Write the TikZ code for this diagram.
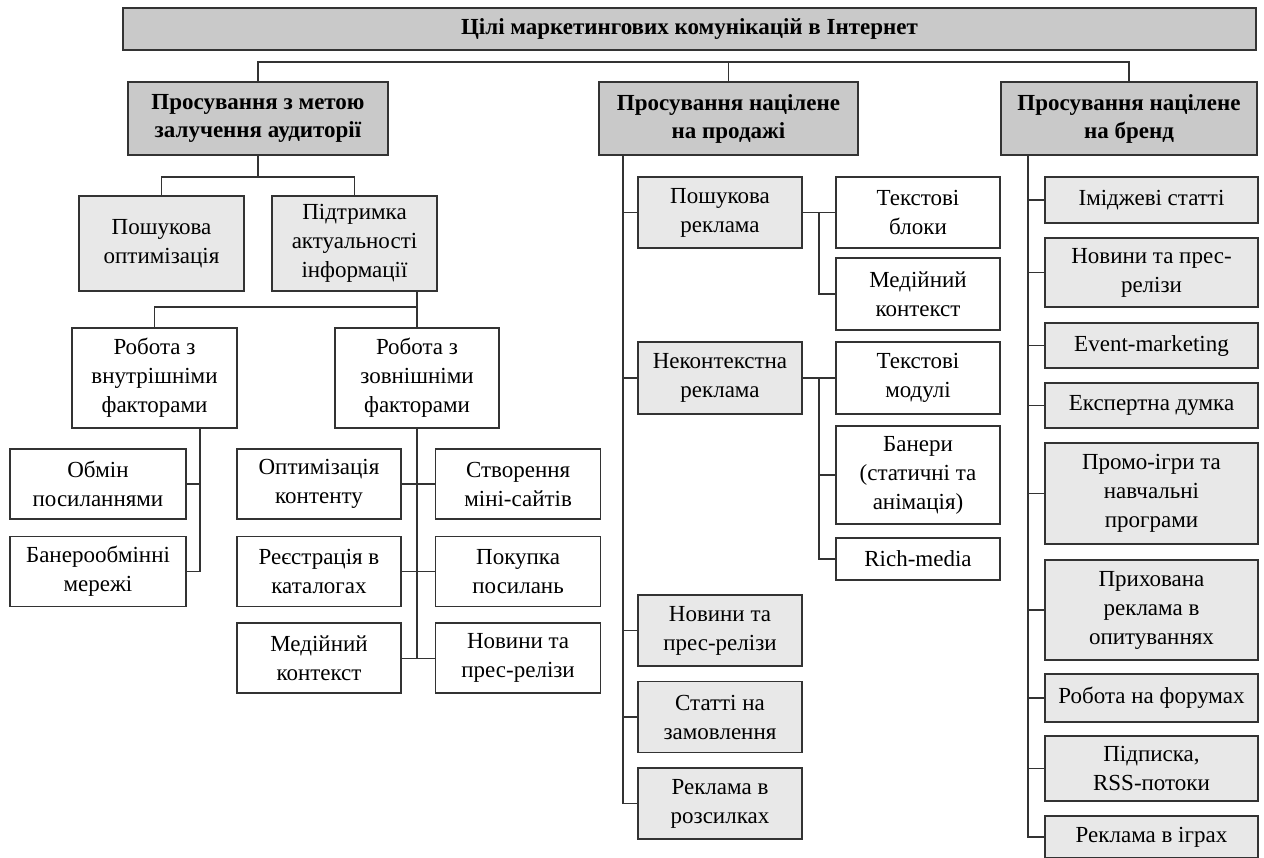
\documentclass[tikz,border=0pt]{standalone}
\usepackage{fontspec}
\setmainfont{Liberation Serif}
\usepackage{tikz}
\usetikzlibrary{positioning,calc}
\definecolor{darkfill}{gray}{0.79}
\definecolor{lightfill}{gray}{0.91}
\definecolor{edge}{gray}{0.2}

\begin{document}
\begin{tikzpicture}[x=1pt, y=-1pt,
font=\fontsize{23}{29}\selectfont,
box/.style={draw=edge, line width=1.6pt, align=center, inner sep=0pt},
headbox/.style={box, fill=darkfill, font=\fontsize{23}{28}\selectfont\bfseries},
greybox/.style={box, fill=lightfill},
whitebox/.style={box, fill=white},
link/.style={draw=edge, line width=1.4pt}
]
\useasboundingbox (0,0) rectangle (1264,857);

\node (title) [headbox, minimum width=1133pt, minimum height=42pt] at (689.5,29) {Цілі маркетингових комунікацій в Інтернет};
\node (goal1) [headbox, minimum width=260pt, minimum height=73pt] at (258,118.5) {Просування з метою\\залучення аудиторії};
\node (goal2) [headbox, minimum width=259pt, minimum height=73pt] at (728.5,118.5) {Просування націлене\\на продажі};
\node (goal3) [headbox, minimum width=256pt, minimum height=73pt] at (1129,118.5) {Просування націлене\\на бренд};

% audience branch
\node (seo) [greybox, minimum width=165pt, minimum height=95pt] at (161.5,243.5) {Пошукова\\оптимізація};
\node (upd) [greybox, minimum width=165pt, minimum height=95pt] at (354.5,243.5) {Підтримка\\актуальності\\інформації};
\node (inner) [whitebox, minimum width=165pt, minimum height=100pt] at (154.5,378) {Робота з\\внутрішніми\\факторами};
\node (outer) [whitebox, minimum width=164pt, minimum height=100pt] at (417,378) {Робота з\\зовнішніми\\факторами};

\node (links) [whitebox, minimum width=176pt, minimum height=70pt] at (98,484) {Обмін\\посиланнями};
\node (banx) [whitebox, minimum width=176pt, minimum height=70pt, below=16pt of links] {Банерообмінні\\мережі};

\node (content) [whitebox, minimum width=164pt, minimum height=70pt] at (319,484) {Оптимізація\\контенту};
\node (mini) [whitebox, minimum width=165pt, minimum height=70pt, right=33pt of content] {Створення\\міні-сайтів};
\node (catalog) [whitebox, minimum width=164pt, minimum height=70pt, below=16pt of content] {Реєстрація в\\каталогах};
\node (buy) [whitebox, minimum width=165pt, minimum height=70pt, right=33pt of catalog] {Покупка\\посилань};
\node (media) [whitebox, minimum width=164pt, minimum height=70pt, below=15pt of catalog] {Медійний\\контекст};
\node (news1) [whitebox, minimum width=165pt, minimum height=70pt, right=33pt of media] {Новини та\\прес-релізи};

% sales branch
\node (srch) [greybox, minimum width=164pt, minimum height=71pt] at (720,212.5) {Пошукова\\реклама};
\node (nonctx) [greybox, minimum width=164pt, minimum height=72pt] at (720,378) {Неконтекстна\\реклама};
\node (news2) [greybox, minimum width=164pt, minimum height=71pt] at (720,630.5) {Новини та\\прес-релізи};
\node (art) [greybox, minimum width=164pt, minimum height=71pt, below=14pt of news2] {Статті на\\замовлення};
\node (mail) [greybox, minimum width=164pt, minimum height=71pt, below=14pt of art] {Реклама в\\розсилках};

\node (tblk) [whitebox, minimum width=164pt, minimum height=71pt] at (918,212.5) {Текстові\\блоки};
\node (mctx) [whitebox, minimum width=164pt, minimum height=72pt] at (918,294) {Медійний\\контекст};
\node (tmod) [whitebox, minimum width=164pt, minimum height=72pt] at (918,378) {Текстові\\модулі};
\node (ban) [whitebox, minimum width=164pt, minimum height=98pt] at (918,475) {Банери\\(статичні та\\анімація)};
\node (rich) [whitebox, minimum width=164pt, minimum height=42pt] at (918,559) {Rich-media};

% brand branch
\node (img) [greybox, minimum width=213pt, minimum height=46pt] at (1151.5,200) {Іміджеві статті};
\node (news3) [greybox, minimum width=213pt, minimum height=69pt] at (1151.5,272.5) {Новини та прес-\\релізи};
\node (event) [greybox, minimum width=213pt, minimum height=45pt] at (1151.5,345.5) {Event-marketing};
\node (expert) [greybox, minimum width=213pt, minimum height=45pt] at (1151.5,405.5) {Експертна думка};
\node (promo) [greybox, minimum width=213pt, minimum height=101pt] at (1151.5,493.5) {Промо-ігри та\\навчальні\\програми};
\node (hidden) [greybox, minimum width=213pt, minimum height=100pt] at (1151.5,610) {Прихована\\реклама в\\опитуваннях};
\node (forum) [greybox, minimum width=213pt, minimum height=48pt] at (1151.5,698) {Робота на форумах};
\node (rss) [greybox, minimum width=213pt, minimum height=65pt] at (1151.5,768.5) {Підписка,\\RSS-потоки};
\node (games) [greybox, minimum width=213pt, minimum height=42pt] at (1151.5,837) {Реклама в іграх};

\coordinate (bus) at (0,62);
\coordinate (abus) at (258,177);
\coordinate (ubus) at (417,307);
\coordinate (ibus) at (200,428);
\coordinate (bbus) at (623,155);
\coordinate (sbx) at (819,0);
\coordinate (cbus) at (1028,155);

\draw[link] (goal1.north) |- (bus -| goal3) -- (goal3.north);
\draw[link] (goal2.north) -- (bus -| goal2);

\draw[link] (goal1) -- (abus);
\draw[link] (seo.north) |- (abus) -| (upd.north);
\draw[link] (upd.south -| ubus) -- (outer.north);
\draw[link] (ubus) -| (inner.north);

\draw[link] (ibus) |- (links);
\draw[link] (ibus) |- (banx);
\draw[link] (outer.south) |- (news1);
\draw[link] (content) -- (mini) (catalog) -- (buy) (media) -- (news1);

\draw[link] (bbus) |- (mail);
\draw[link] (bbus) |- (srch) (bbus) |- (nonctx) (bbus) |- (news2) (bbus) |- (art);
\draw[link] (srch) -- (tblk);
\draw[link] (srch.east -| sbx) |- (mctx);
\draw[link] (nonctx) -- (tmod);
\draw[link] (nonctx.east -| sbx) |- (rich);
\draw[link] (nonctx.east -| sbx) |- (ban);

\draw[link] (cbus) |- (games);
\draw[link] (cbus) |- (img) (cbus) |- (news3) (cbus) |- (event) (cbus) |- (expert);
\draw[link] (cbus) |- (promo) (cbus) |- (hidden) (cbus) |- (forum) (cbus) |- (rss);

\end{tikzpicture}
\end{document}
